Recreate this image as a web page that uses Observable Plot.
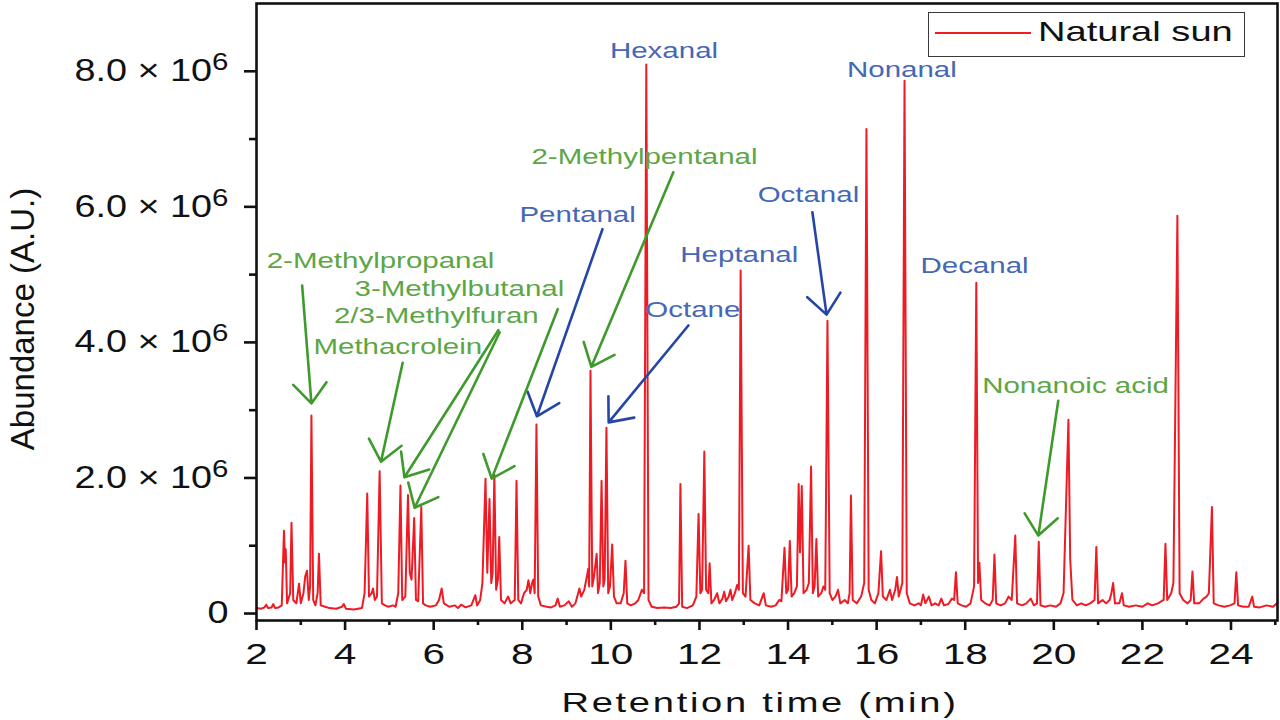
<!DOCTYPE html>
<html><head><meta charset="utf-8">
<script src="https://cdn.jsdelivr.net/npm/d3@7"></script>
<script src="https://cdn.jsdelivr.net/npm/@observablehq/plot@0.6"></script>
<style>
html,body{margin:0;padding:0;background:#fff;}
#wrap{position:relative;width:1280px;height:720px;overflow:hidden;font-family:"Liberation Sans",Arial,sans-serif;}
#legend{position:absolute;left:928px;top:12px;width:317px;height:45px;box-sizing:border-box;border:1.5px solid #3a3a3a;background:#fff;}
#legend .swatch{position:absolute;left:6px;top:19px;width:96px;height:0;border-top:2px solid #ef1c24;}
#legend .name{position:absolute;left:109px;top:5px;font-size:28px;line-height:28px;color:#111;white-space:nowrap;transform:scaleX(1.36);transform-origin:0 0;}
</style></head>
<body><div id="wrap"><div id="chart"></div><div id="legend"><div class="swatch"></div><span class="name"></span></div></div>
<script>
// ---- data (abundance in units of 10^6) ----
const seriesName = "Natural sun";
const trace = [
[2.00,0.08],[2.10,0.07],[2.18,0.09],[2.22,0.13],[2.26,0.08],[2.34,0.09],[2.38,0.14],[2.42,0.08],[2.50,0.09],[2.57,0.12],
[2.62,1.22],[2.645,0.75],[2.66,0.95],[2.69,0.15],[2.76,0.3],[2.79,1.34],[2.83,0.2],[2.90,0.15],[2.96,0.44],[3.00,0.15],[3.06,0.3],[3.10,0.55],[3.14,0.63],[3.18,0.2],[3.21,0.4],[3.24,2.92],[3.28,0.2],[3.33,0.12],[3.38,0.3],[3.41,0.88],[3.45,0.12],[3.55,0.1],[3.65,0.08],[3.80,0.07],[3.93,0.1],[3.97,0.14],[4.02,0.07],[4.20,0.06],[4.38,0.08],[4.44,0.3],
[4.50,1.77],[4.54,0.25],[4.60,0.3],[4.63,0.37],[4.67,0.2],[4.72,0.25],[4.78,2.10],[4.83,0.15],[4.90,0.12],[4.98,0.1],[5.08,0.12],[5.14,0.1],[5.20,0.3],
[5.25,1.89],[5.29,0.2],[5.36,0.25],[5.42,1.75],[5.46,0.6],[5.50,0.5],[5.56,1.41],[5.60,0.2],[5.65,0.18],[5.72,1.57],[5.76,0.15],[5.82,0.12],[5.92,0.1],[6.05,0.12],[6.12,0.2],[6.18,0.37],[6.23,0.15],[6.35,0.1],[6.48,0.12],[6.55,0.08],[6.62,0.13],[6.72,0.09],[6.85,0.12],[6.94,0.27],[6.98,0.12],[7.05,0.2],[7.10,0.45],
[7.17,1.99],[7.21,0.6],[7.26,1.69],[7.30,0.45],[7.33,0.6],[7.37,2.05],[7.41,0.35],[7.45,0.5],[7.48,1.13],[7.52,0.2],[7.60,0.15],[7.68,0.25],[7.74,0.15],[7.83,0.2],[7.87,1.96],[7.91,0.2],[7.97,0.15],[8.04,0.3],[8.10,0.35],[8.14,0.49],[8.18,0.3],[8.22,0.45],[8.25,0.5],[8.28,0.3],[8.32,2.79],[8.36,0.25],[8.42,0.12],[8.55,0.1],[8.65,0.09],[8.75,0.12],[8.80,0.22],[8.85,0.1],[8.95,0.12],[9.05,0.18],[9.12,0.1],[9.20,0.15],[9.29,0.37],[9.33,0.25],[9.40,0.35],[9.46,0.55],[9.49,0.66],[9.51,0.4],
[9.54,3.58],[9.58,0.4],[9.62,0.55],[9.68,0.88],[9.71,0.3],[9.75,0.45],[9.79,1.96],[9.83,0.4],[9.86,0.5],[9.90,2.74],[9.94,0.3],[9.98,0.4],[10.03,1.02],[10.07,0.25],[10.13,0.15],[10.22,0.15],[10.29,0.3],[10.33,0.78],[10.37,0.15],[10.45,0.12],[10.55,0.15],[10.62,0.2],[10.70,0.35],[10.75,0.3],
[10.80,8.10],[10.85,0.2],[10.92,0.1],[11.05,0.08],[11.20,0.09],[11.35,0.08],[11.48,0.1],[11.54,0.15],[11.57,1.91],[11.61,0.1],[11.72,0.08],[11.85,0.12],[11.93,0.25],[11.98,1.47],[12.02,0.3],[12.06,0.35],[12.11,2.39],[12.15,0.35],[12.20,0.3],[12.23,0.74],[12.27,0.15],[12.33,0.2],[12.40,0.3],[12.45,0.15],[12.52,0.22],[12.56,0.32],[12.60,0.18],[12.66,0.25],[12.70,0.35],[12.74,0.2],[12.80,0.3],[12.85,0.42],[12.89,0.35],
[12.93,5.06],[12.98,0.3],[13.04,0.25],[13.11,1.00],[13.15,0.2],[13.25,0.15],[13.35,0.12],[13.45,0.3],[13.50,0.12],[13.62,0.1],[13.72,0.12],[13.80,0.2],[13.85,0.18],[13.92,0.97],[13.96,0.3],[14.00,0.35],[14.04,1.07],[14.08,0.25],[14.14,0.3],[14.20,0.4],[14.24,1.91],[14.27,0.9],[14.31,1.88],[14.35,0.3],[14.42,0.35],[14.47,0.45],[14.52,2.17],[14.56,0.3],[14.60,0.4],[14.64,1.10],[14.68,0.25],[14.75,0.3],[14.80,0.4],[14.84,0.35],
[14.89,4.32],[14.94,0.3],[15.00,0.2],[15.07,0.25],[15.13,0.35],[15.18,0.15],[15.28,0.2],[15.35,0.15],[15.39,0.3],[15.42,1.74],[15.46,0.2],[15.55,0.15],[15.65,0.25],[15.72,0.45],[15.77,7.15],[15.82,0.35],[15.88,0.2],[15.96,0.15],[16.04,0.3],[16.10,0.92],[16.14,0.25],[16.22,0.2],[16.30,0.35],[16.35,0.2],[16.42,0.35],[16.46,0.54],[16.50,0.25],[16.58,0.45],
[16.63,7.86],[16.68,0.3],[16.75,0.15],[16.85,0.12],[16.95,0.15],[17.00,0.12],[17.05,0.28],[17.10,0.15],[17.18,0.25],[17.24,0.12],[17.32,0.15],[17.40,0.12],[17.46,0.22],[17.52,0.12],[17.62,0.14],[17.70,0.22],[17.75,0.2],[17.79,0.61],[17.83,0.15],[17.92,0.12],[18.02,0.1],[18.12,0.15],[18.20,0.4],
[18.25,4.88],[18.29,0.45],[18.32,0.75],[18.36,0.2],[18.45,0.15],[18.55,0.12],[18.62,0.2],[18.66,0.87],[18.70,0.15],[18.80,0.12],[18.90,0.15],[18.98,0.25],[19.05,0.2],[19.13,1.15],[19.17,0.15],[19.28,0.12],[19.38,0.15],[19.48,0.22],[19.55,0.12],[19.62,0.15],[19.66,1.06],[19.70,0.12],[19.80,0.1],[19.92,0.12],[20.05,0.1],[20.15,0.15],[20.22,0.3],
[20.33,2.86],[20.37,0.8],[20.42,0.2],[20.52,0.12],[20.62,0.15],[20.72,0.12],[20.82,0.15],[20.92,0.2],[20.96,0.98],[21.00,0.15],[21.10,0.2],[21.18,0.15],[21.26,0.2],[21.30,0.3],[21.34,0.45],[21.38,0.15],[21.48,0.15],[21.54,0.3],[21.58,0.12],[21.70,0.1],[21.85,0.12],[22.00,0.1],[22.12,0.15],[22.22,0.12],[22.35,0.15],[22.48,0.2],
[22.52,1.03],[22.56,0.2],[22.65,0.3],[22.70,0.45],[22.79,5.87],[22.84,0.3],[22.92,0.2],[23.02,0.15],[23.09,0.2],[23.13,0.62],[23.17,0.15],[23.28,0.15],[23.38,0.22],[23.45,0.25],[23.50,0.3],[23.57,1.57],[23.61,0.15],[23.72,0.12],[23.85,0.1],[23.98,0.12],[24.08,0.15],[24.12,0.61],[24.16,0.12],[24.28,0.1],[24.40,0.1],[24.48,0.25],[24.52,0.1],[24.65,0.09],[24.80,0.12],[24.95,0.1],[25.05,0.16]
];

const xTicks = [2,4,6,8,10,12,14,16,18,20,22,24];
const xMinorTicks = [3,5,7,9,11,13,15,17,19,21,23,25];
const yTicks = [0,2,4,6,8];
const yMinorTicks = [1,3,5,7];
const yExponent = "6";
const xLabel = "Retention time (min)";
const yLabel = "Abundance (A.U.)";

const labelNames = ["Hexanal","2-Methylpentanal","Pentanal","Octanal","Heptanal","Octane","Nonanal","Decanal","Nonanoic acid","2-Methylpropanal","3-Methylbutanal","2/3-Methylfuran","Methacrolein"];
const labelTime  = [11.20,10.76,9.25,14.46,12.90,11.85,16.57,18.21,20.49,4.80,6.58,6.06,5.19];
const labelAbund = [8.42,6.86,6.00,6.30,5.42,4.60,8.14,5.25,3.48,5.33,4.91,4.51,4.06];
const labelGroup = ["blue","green","blue","blue","blue","blue","blue","blue","green","green","green","green","green"];

const arrowTime1  = [3.03,5.30,7.46,7.49,8.80,11.41,20.10,9.81,11.75,14.55];
const arrowAbund1 = [4.84,3.70,4.18,4.15,4.49,6.51,3.14,5.67,4.25,5.92];
const arrowTime2  = [3.24,4.81,5.34,5.57,7.31,9.56,19.65,8.33,9.95,14.87];
const arrowAbund2 = [3.10,2.24,2.01,1.56,1.99,3.64,1.15,2.91,2.82,4.41];
const arrowGroup  = ["green","green","green","green","green","green","green","blue","blue","blue"];

const textColor  = {blue: "#4567b5", green: "#5ca645"};
const arrowColor = {blue: "#2646a6", green: "#3f9a2d"};

// ---- tables ----
const labels = labelNames.map((name, i) => ({name, t: labelTime[i], a: labelAbund[i], g: labelGroup[i]}));
const arrows = arrowTime1.map((t1, i) => ({t1, a1: arrowAbund1[i], t2: arrowTime2[i], a2: arrowAbund2[i], g: arrowGroup[i]}));

const font = '"Liberation Sans", Arial, sans-serif';
const svg = Plot.plot({
  width: 1280, height: 720,
  marginLeft: 256, marginRight: 3, marginTop: 3, marginBottom: 100,
  style: {fontFamily: font, background: "white", color: "#111"},
  x: {domain: [2, 25.05]},
  y: {domain: [-0.103, 9.0]},
  marks: [
    Plot.line(trace, {x: d => d[0], y: d => d[1], stroke: "#ee1b24", strokeWidth: 2}),
    ...["blue", "green"].map(g => Plot.arrow(arrows.filter(d => d.g === g), {
      x1: "t1", y1: "a1", x2: "t2", y2: "a2", stroke: arrowColor[g], strokeWidth: 2.6,
      headLength: 15, headAngle: 80
    })),
    ...["blue", "green"].map(g => Plot.text(labels.filter(d => d.g === g), {
      x: "t", y: "a", text: "name", fill: textColor[g], fontSize: 22, lineAnchor: "top", textAnchor: "middle"
    })),
    Plot.frame({stroke: "#111", strokeWidth: 2.6}),
    Plot.axisX({ticks: xTicks, tickSize: 10, tickFormat: () => "", strokeWidth: 2.6, label: null}),
    Plot.axisX({ticks: xMinorTicks, tickSize: 5, tickFormat: () => "", strokeWidth: 2.6, label: null}),
    Plot.text(xTicks, {x: d => d, frameAnchor: "bottom", dy: 23, lineAnchor: "top", textAnchor: "middle", fontSize: 29, fill: "#111", text: d => String(d)}),
    Plot.axisY({ticks: yTicks, tickSize: 12, tickPadding: 16, tickFormat: d => d === 0 ? "0" : `${d.toFixed(1)} × 10`, fontSize: 31, strokeWidth: 2.6, label: null}),
    Plot.axisY({ticks: yMinorTicks, tickSize: 7, tickFormat: () => "", strokeWidth: 2.6, label: null}),
    Plot.text([xLabel], {frameAnchor: "bottom", dx: -7, dy: 72, lineAnchor: "top", textAnchor: "middle", fontSize: 28, text: d => d}),
    Plot.text([yLabel], {frameAnchor: "left", dx: -233, dy: 7, rotate: -90, lineAnchor: "middle", textAnchor: "middle", fontSize: 33, text: d => d})
  ]
});

// superscript exponent on the non-zero major y tick labels
svg.querySelectorAll('g[aria-label="y-axis tick label"] text').forEach(t => {
  const s0 = t.textContent;
  if (s0 !== "" && s0 !== "0") {
    const s = document.createElementNS("http://www.w3.org/2000/svg", "tspan");
    s.setAttribute("dy", "-0.45em");
    s.setAttribute("font-size", "0.78em");
    s.textContent = yExponent;
    t.appendChild(s);
  }
});

// horizontal widening of the reference's wide lettering (scale about each text's anchor)
function stretch(nodes, sx) {
  nodes.forEach(t => {
    const tr = t.getAttribute("transform") || "";
    t.setAttribute("transform", `${tr} scale(${sx},1)`.trim());
  });
}
stretch(svg.querySelectorAll('g[aria-label="y-axis tick label"] text'), 1.22);
const textGroups = svg.querySelectorAll('g[aria-label="text"]');
stretch(textGroups[0].querySelectorAll("text"), 1.34);
stretch(textGroups[1].querySelectorAll("text"), 1.34);
stretch(textGroups[2].querySelectorAll("text"), 1.4);
textGroups[3].querySelectorAll("text").forEach(t => t.setAttribute("letter-spacing", "2"));
stretch(textGroups[3].querySelectorAll("text"), 1.36);

document.getElementById("chart").appendChild(svg);
document.querySelector("#legend .name").textContent = seriesName;
</script></body></html>
